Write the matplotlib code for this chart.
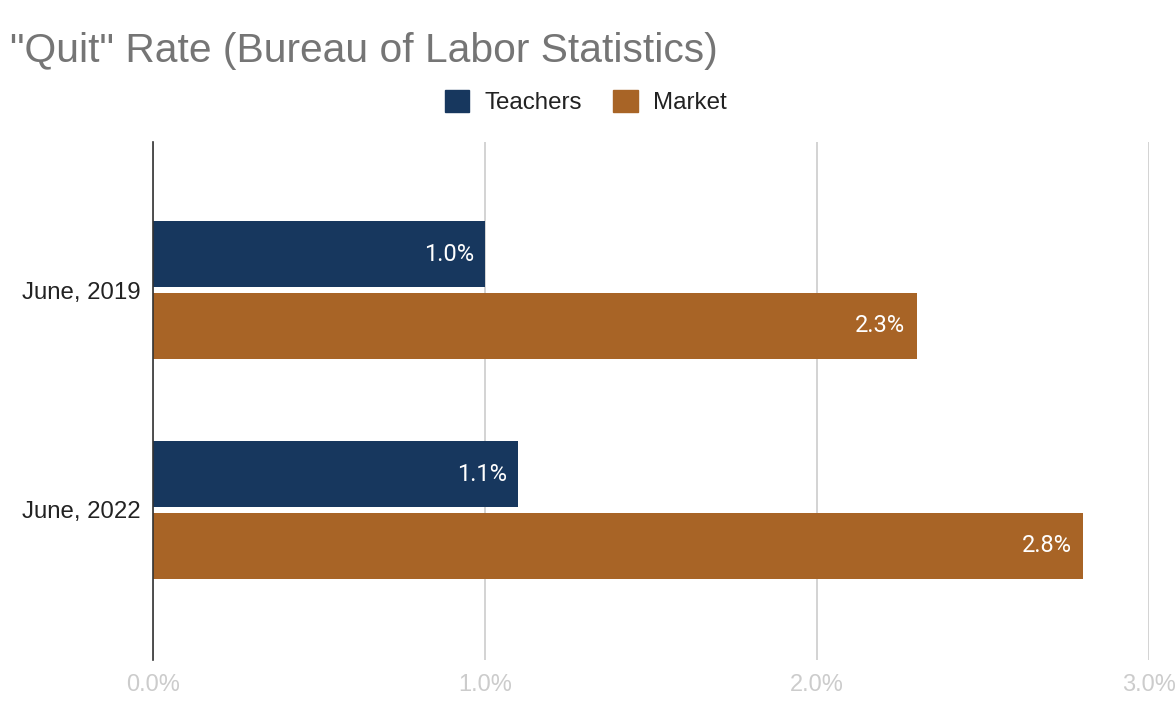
import matplotlib
matplotlib.use("Agg")
import matplotlib.pyplot as plt
from matplotlib.patches import Patch
import numpy as np

plt.rcParams['font.family'] = ['Liberation Sans', 'DejaVu Sans']

categories = ["June, 2019", "June, 2022"]
series_names = ["Teachers", "Market"]
teachers = [1.0, 1.1]
market = [2.3, 2.8]
xticks = [0.0, 1.0, 2.0, 3.0]
title = "\"Quit\" Rate (Bureau of Labor Statistics)"

c_teach = "#17375e"
c_market = "#a86426"

fig = plt.figure(figsize=(11.76, 7.22), dpi=100)
ax = fig.add_axes([153/1176, 1-660/722, 996/1176, (660-142)/722])

y = np.arange(len(categories))
h = 0.30
off = 0.162
b1 = ax.barh(y - off, teachers, height=h, color=c_teach, zorder=3)
b2 = ax.barh(y + off, market, height=h, color=c_market, zorder=3)

for bars, vals in ((b1, teachers), (b2, market)):
    for rect, v in zip(bars, vals):
        ax.annotate(f"{v:.1f}%", xy=(v, rect.get_y() + rect.get_height()/2),
                    xytext=(-8, 0), textcoords="offset points",
                    ha="right", va="center", color="white", fontsize=17,
                    family=['Roboto', 'DejaVu Sans'], zorder=4)

ax.set_xlim(0, 3.0)
ax.set_ylim(1.682, -0.673)
ax.set_xticks(xticks)
ax.set_xticklabels([f"{t:.1f}%" for t in xticks], color="#cccccc", fontsize=17)
ax.set_yticks(y)
ax.set_yticklabels(categories, fontsize=17.3, color="#222222")
ax.tick_params(axis="both", length=0)
ax.tick_params(axis="x", pad=10)
ax.tick_params(axis="y", pad=8.6)
ax.xaxis.grid(True, color="#cccccc", linewidth=1.2, zorder=0)
for s in ("top", "right", "bottom"):
    ax.spines[s].set_visible(False)
ax.spines["left"].set_color("#333333")
ax.spines["left"].set_linewidth(1.2)
ax.spines["left"].set_zorder(5)

fig.text(10/1176, 1-62/722, title, fontsize=29.3, color="#757575",
         ha="left", va="baseline")

handles = [Patch(facecolor=c_teach, edgecolor=c_teach),
           Patch(facecolor=c_market, edgecolor=c_market)]
fig.legend(handles, series_names, loc="center", bbox_to_anchor=(586/1176, 1-102/722),
           ncol=2, frameon=False, fontsize=17.4, handlelength=1.0, handleheight=1.0,
           handletextpad=0.66, columnspacing=1.28, labelcolor="#222222")

fig.savefig("out.png", dpi=100)
